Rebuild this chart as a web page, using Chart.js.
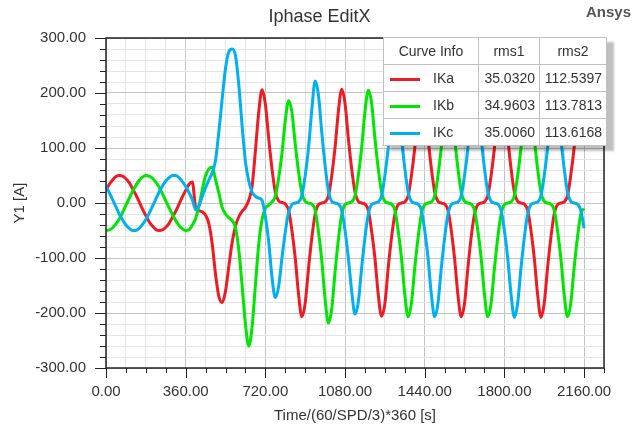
<!DOCTYPE html>
<html>
<head>
<meta charset="utf-8">
<title>Iphase EditX</title>
<script src="https://cdn.jsdelivr.net/npm/chart.js@4.4.1/dist/chart.umd.min.js"></script>
<style>
    body { margin: 0; background: #fff; font-family: "Liberation Sans", Arial, sans-serif; }
    #wrap { position: relative; width: 639px; height: 434px; }
    #title { position: absolute; left: 0; top: 5px; width: 639px; text-align: center; font-size: 18px; line-height: 22px; color: #333; }
    #brand { position: absolute; left: 586px; top: 3px; font-size: 15px; line-height: 18px; font-weight: bold; color: #555; }
    #curve-info { position: absolute; left: 383px; top: 37px; width: 224px; border-collapse: collapse; background: #fff;
        border: 1px solid #333; box-shadow: 7px 5px 2px rgba(0, 0, 0, 0.25); font-size: 14px; color: #333; }
    #curve-info th, #curve-info td { border: 1px solid #c0c0c0; height: 26px; padding: 0 4px; font-weight: normal; white-space: nowrap; }
    #curve-info th { text-align: center; }
    #curve-info td.num { text-align: right; }
    #curve-info td.name { padding-left: 6px; }
    .swatch { display: inline-block; width: 30px; height: 3px; margin-right: 13px; vertical-align: middle; }
</style>
</head>
<body>
<div id="wrap">
    <canvas id="chart" width="639" height="434"></canvas>
    <div id="title">Iphase EditX</div>
    <div id="brand">Ansys</div>
    <table id="curve-info"></table>
</div>
<script>
// time axis in electrical degrees, one sample every 15
const timeDeg = [
    0, 15, 30, 45, 60, 75, 90, 105, 120, 135, 150, 165,
    180, 195, 210, 225, 240, 255, 270, 285, 300, 315, 330, 345,
    360, 375, 390, 405, 420, 435, 450, 465, 480, 495, 510, 525,
    540, 555, 570, 585, 600, 615, 630, 645, 660, 675, 690, 705,
    720, 735, 750, 765, 780, 795, 810, 825, 840, 855, 870, 885,
    900, 915, 930, 945, 960, 975, 990, 1005, 1020, 1035, 1050, 1065,
    1080, 1095, 1110, 1125, 1140, 1155, 1170, 1185, 1200, 1215, 1230, 1245,
    1260, 1275, 1290, 1305, 1320, 1335, 1350, 1365, 1380, 1395, 1410, 1425,
    1440, 1455, 1470, 1485, 1500, 1515, 1530, 1545, 1560, 1575, 1590, 1605,
    1620, 1635, 1650, 1665, 1680, 1695, 1710, 1725, 1740, 1755, 1770, 1785,
    1800, 1815, 1830, 1845, 1860, 1875, 1890, 1905, 1920, 1935, 1950, 1965,
    1980, 1995, 2010, 2025, 2040, 2055, 2070, 2085, 2100, 2115, 2130, 2145,
    2160
];

const ikA = [
    23, 34, 42, 48, 50, 49, 44, 37, 26, 15, 2, -11,
    -23, -34, -42, -48, -50, -49, -44, -37, -26, -15, -2, 11,
    23, 34, 38, -8, -14, -16, -22, -38, -75, -130, -170, -181,
    -160, -115, -72, -42, -25, -15, -8, 5, 30, 95, 165, 206,
    180, 118, 62, 20, 4, 1, -2, -13, -50, -100, -166, -207,
    -182, -119, -63, -20, -3, 0, 2, 13, 50, 101, 167, 207,
    181, 117, 62, 20, 3, 0, -2, -13, -51, -100, -166, -206,
    -183, -118, -63, -21, -3, 0, 2, 13, 50, 100, 166, 206,
    182, 118, 63, 20, 3, 0, -2, -13, -50, -101, -167, -207,
    -182, -118, -62, -20, -3, 0, 2, 14, 50, 100, 166, 206,
    182, 119, 63, 20, 3, 0, -2, -13, -50, -100, -166, -208,
    -182, -118, -63, -20, -3, 0, 2, 13, 51, 100, 166, 206,
    184
];

const ikB = [
    -50, -49, -45, -38, -29, -17, -4, 9, 21, 32, 41, 47,
    50, 49, 45, 38, 29, 17, 4, -9, -21, -32, -41, -47,
    -50, -49, -40, -28, -5, 24, 50, 62, 65, 42, 18, -8,
    -20, -27, -32, -45, -85, -150, -220, -260, -225, -150, -75, -30,
    -10, -4, 2, 12, 45, 90, 150, 186, 165, 107, 57, 18,
    3, 0, -2, -13, -52, -105, -175, -218, -192, -125, -66, -21,
    -3, 0, 2, 13, 50, 100, 166, 205, 182, 118, 63, 20,
    3, 0, -2, -13, -50, -100, -166, -207, -182, -118, -63, -20,
    -3, 0, 2, 13, 50, 101, 166, 206, 181, 118, 63, 20,
    3, 0, -2, -13, -50, -100, -166, -207, -182, -119, -63, -20,
    -3, 0, 2, 13, 50, 100, 167, 206, 182, 118, 62, 20,
    3, 0, -2, -13, -50, -100, -166, -207, -182, -118, -63, -20,
    -10
];

const ikC = [
    30, 19, 6, -7, -20, -31, -40, -46, -50, -50, -46, -39,
    -30, -19, -6, 7, 20, 31, 40, 46, 50, 50, 46, 39,
    30, 19, 6, -12, -5, 12, 28, 42, 55, 78, 130, 190,
    245, 275, 280, 268, 215, 140, 75, 40, 20, 12, 9, 5,
    -25, -70, -135, -172, -152, -100, -53, -17, -3, 0, 2, 14,
    50, 100, 170, 222, 196, 128, 68, 22, 3, 0, -2, -13,
    -50, -100, -160, -202, -180, -118, -63, -20, -3, 0, 2, 13,
    50, 100, 166, 206, 182, 118, 63, 20, 3, 0, -2, -13,
    -50, -100, -166, -207, -182, -118, -63, -20, -3, 0, 2, 13,
    50, 100, 166, 206, 182, 118, 63, 20, 3, 0, -2, -13,
    -50, -100, -166, -208, -182, -118, -63, -20, -3, 0, 2, 13,
    50, 100, 166, 206, 182, 118, 63, 20, 3, 0, -2, -13,
    -46
];

const seriesNames = ['IKa', 'IKb', 'IKc'];
const seriesValues = [ikA, ikB, ikC];
const seriesColors = ['rgb(237, 28, 36)', 'rgb(0, 230, 0)', 'rgb(0, 176, 240)'];
const rms1 = [35.0320, 34.9603, 35.0060];
const rms2 = [112.5397, 113.7813, 113.6168];

Chart.defaults.font.family = '"Liberation Sans", Arial, sans-serif';
Chart.defaults.color = '#333';

// ansys style ticks (long on labelled values) and a closed frame
const frameAndTicks = {
    id: 'frameAndTicks',
    afterDraw(chart) {
        const { ctx, chartArea: a, scales } = chart;
        ctx.save();
        ctx.strokeStyle = '#222';
        ctx.lineWidth = 1;
        ctx.beginPath();
        scales.x.ticks.forEach(t => {
            const px = Math.round(scales.x.getPixelForValue(t.value)) + 0.5;
            const len = t.value % 360 === 0 ? 10 : 5;
            ctx.moveTo(px, a.bottom);
            ctx.lineTo(px, a.bottom + len);
        });
        scales.y.ticks.forEach(t => {
            const py = Math.round(scales.y.getPixelForValue(t.value)) + 0.5;
            const len = t.value % 100 === 0 ? 11 : 6;
            ctx.moveTo(a.left, py);
            ctx.lineTo(a.left - len, py);
        });
        ctx.stroke();
        ctx.lineWidth = 1.5;
        ctx.strokeRect(a.left, a.top, a.right - a.left, a.bottom - a.top);
        ctx.restore();
    }
};

function gridColor(step) {
    return c => (c.tick && c.tick.value % step === 0) ? '#c4c4c4' : '#e4e4e4';
}

const ctx = document.getElementById('chart').getContext('2d');
const chart = new Chart(ctx, {
    type: 'line',
    data: {
        datasets: seriesNames.map((name, k) => ({
            label: name,
            data: timeDeg.map((t, i) => ({ x: t, y: seriesValues[k][i] })),
            borderColor: seriesColors[k],
            backgroundColor: seriesColors[k],
            borderWidth: 3,
            pointRadius: 0,
            cubicInterpolationMode: 'monotone',
            order: seriesNames.length - k
        }))
    },
    options: {
        responsive: false,
        animation: false,
        layout: { padding: { top: 38, right: 35, left: 0, bottom: 0 } },
        plugins: {
            legend: { display: false },
            tooltip: { enabled: false }
        },
        scales: {
            x: {
                type: 'linear',
                min: 0,
                max: 2250,
                afterFit: s => { s.height = 66; },
                ticks: {
                    stepSize: 90,
                    autoSkip: false,
                    maxRotation: 0,
                    padding: 15,
                    font: { size: 15 },
                    callback: v => (v % 360 === 0 && v <= 2160) ? v.toFixed(2) : ''
                },
                grid: { drawTicks: false, color: gridColor(360) },
                border: { display: false },
                title: {
                    display: true,
                    text: 'Time/(60/SPD/3)*360 [s]',
                    font: { size: 15 },
                    padding: { top: 0, bottom: 9 }
                }
            },
            y: {
                min: -300,
                max: 300,
                afterFit: s => { s.width = 106; },
                ticks: {
                    stepSize: 20,
                    autoSkip: false,
                    padding: 20,
                    font: { size: 15 },
                    callback: v => v % 100 === 0 ? v.toFixed(2) : ''
                },
                grid: { drawTicks: false, color: gridColor(100) },
                border: { display: false },
                title: {
                    display: true,
                    text: 'Y1 [A]',
                    font: { size: 15 },
                    padding: { top: 11, bottom: 0 }
                }
            }
        }
    },
    plugins: [frameAndTicks]
});

// curve info table in place of the normal legend
const infoRows = seriesNames.map((name, k) => `
    <tr>
        <td class="name"><span class="swatch" style="background:${seriesColors[k]}"></span>${name}</td>
        <td class="num">${rms1[k].toFixed(4)}</td>
        <td class="num">${rms2[k].toFixed(4)}</td>
    </tr>`).join('');
document.getElementById('curve-info').innerHTML = `
    <tr><th style="width:86px">Curve Info</th><th style="width:52px">rms1</th><th>rms2</th></tr>
    ${infoRows}`;
</script>
</body>
</html>
